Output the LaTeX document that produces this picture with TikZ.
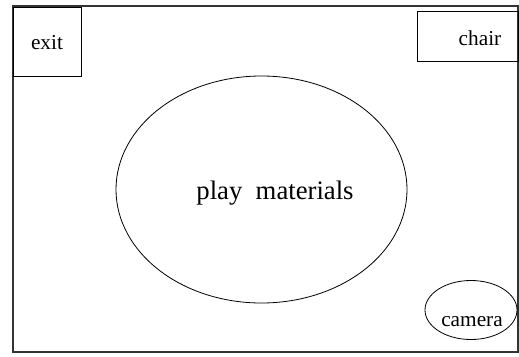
\documentclass[tikz,border=0pt]{standalone}
\usepackage{fontspec}
\setmainfont{Liberation Serif}
\usetikzlibrary{shapes.geometric}
\begin{document}
\begin{tikzpicture}[x=1pt,y=-1pt,
  outline/.style={draw=black, line width=0.8pt, inner sep=0pt},
  boxshape/.style={outline, rectangle, anchor=north west},
  ovalshape/.style={outline, ellipse},
  smalltext/.style={font=\fontsize{21.3}{24}\selectfont, anchor=base, inner sep=0pt},
  bigtext/.style={font=\fontsize{26.7}{30}\selectfont, anchor=base, inner sep=0pt}]
\useasboundingbox (0,0) rectangle (519,356);
% room walls
\draw[draw=black!80, line width=1.2pt] (13,6) rectangle (518,352);
% exit door
\node[boxshape, minimum width=68pt, minimum height=69pt] (exit) at (13,7) {};
\node[smalltext] (exittext) at (47,49) {exit};
% chair
\node[boxshape, minimum width=101pt, minimum height=50pt] (chair) at (417,11) {};
\node[smalltext] (chairtext) at (480,45) {chair};
% play area
\node[ovalshape, minimum width=291pt, minimum height=227pt] (play) at (261.5,189.5) {};
\node[bigtext] (playtext) at (275,199) {play\ \ materials};
% camera
\node[ovalshape, minimum width=92pt, minimum height=59pt] (camera) at (471,310) {};
\node[smalltext] (cameratext) at (472,326) {camera};
\end{tikzpicture}
\end{document}
